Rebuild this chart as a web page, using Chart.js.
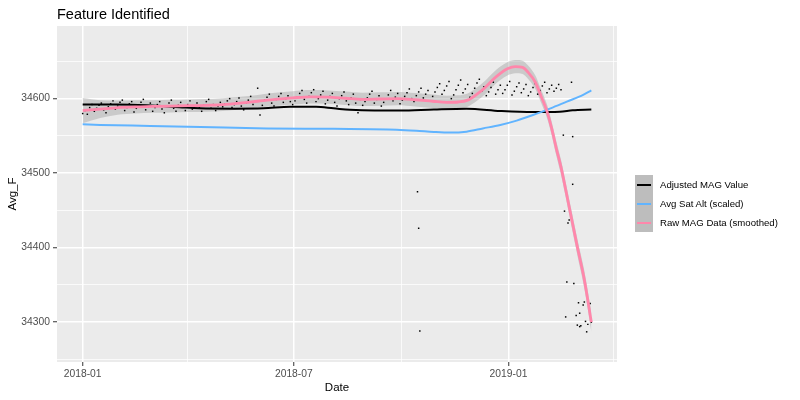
<!DOCTYPE html>
<html><head><meta charset="utf-8">
<script src="https://cdn.jsdelivr.net/npm/chart.js@4.4.1/dist/chart.umd.min.js"></script>
<style>
html,body{margin:0;padding:0;background:#fff;}
#wrap{position:relative;width:800px;height:400px;font-family:"Liberation Sans",Arial,sans-serif;}
canvas{position:absolute;left:0;top:0;}
#title{position:absolute;left:57px;top:5px;font-size:14.5px;line-height:18px;color:#000;white-space:nowrap;}
#legend{position:absolute;left:635px;top:175px;}
.row{position:relative;height:19px;width:160px;}
.key{position:absolute;left:0;top:0;width:18px;height:19px;background:#bdbdbd;}
.key i{position:absolute;left:2px;right:2px;top:8.5px;height:2px;}
.lab{position:absolute;left:25px;top:0;line-height:19px;font-size:9.6px;white-space:nowrap;color:#000;}
</style></head>
<body>
<div id="wrap">
<canvas id="c" width="800" height="400"></canvas>
<div id="title">Feature Identified</div>
<div id="legend"></div>
</div>
<script>
// ---- data (x = days since 2018-01-01) ----
const rawStepDays = 2; // raw points sampled every 2 days from 2018-01-01
const rawValues = [
34580,34584,34579,34588,34592,34583,34587,34591,34594,34585,34581,34589,34593,34597,34586,34590,34595,34598,34584,34588,34593,34596,34582,34587,34591,34595,34599,34585,34589,34594,
34583,34588,34592,34596,34586,34581,34590,34594,34598,34587,34583,34591,34595,34589,34584,34592,34597,34586,34590,34594,34588,34583,34591,34596,34599,34587,34592,34584,34590,34595,
34589,34593,34597,34600,34588,34592,34596,34601,34590,34585,34594,34598,34603,34592,34596,34614,34578,34591,34598,34602,34606,34594,34590,34599,34603,34607,34595,34600,34604,34596,
34592,34597,34602,34607,34611,34599,34594,34603,34608,34612,34596,34600,34605,34610,34593,34598,34603,34607,34595,34590,34600,34604,34609,34597,34592,34601,34606,34594,34581,34599,
34591,34596,34601,34606,34610,34594,34599,34604,34590,34595,34600,34605,34611,34597,34602,34607,34593,34598,34603,34608,34613,34600,34596,34604,34609,34614,34601,34606,34611,34597,
34603,34609,34615,34620,34606,34611,34617,34623,34600,34605,34612,34618,34625,34608,34613,34619,34602,34607,34614,34621,34626,34610,34616,34604,34609,34615,34622,34606,34612,34618,
34607,34612,34618,34623,34605,34610,34616,34621,34608,34613,34619,34604,34609,34615,34620,34606,34611,34617,34622,34608,34613,34618,34610,34614,34619,34612
];
const extraDays   = [287,288,289,412,419,420,420,413,417,416,415,421,425,430,429,435,426,423,414,431,436,433,424,427,426,432];
const extraValues = [34475,34426,34288,34551,34622,34549,34485,34449,34437,34433,34354,34352,34326,34327,34323,34325,34312,34309,34307,34301,34300,34297,34296,34295,34294,34287];

const smoothDays = [0,15,30,45,60,75,90,105,120,135,150,165,180,195,210,225,240,255,270,285,300,312,322,330,338,345,352,358,364,371,377,382,388,393,398,402,406,410,414,418,424,430,436];
const smoothValues = [34584,34586,34588,34589,34589.5,34590,34590.5,34591,34592,34594,34596.5,34599,34601,34602.5,34602,34600.5,34599,34599.5,34600,34598.5,34596.5,34595,34595.5,34598,34606,34615,34626,34634,34640,34643,34642,34635,34622,34603,34583,34560,34533,34508,34478,34447,34401,34357,34300];
const smoothSE = [17,12,9.5,9,8.5,8.5,8.5,8.5,8.5,8.5,8.5,9,9,9,9,9,9,9,9,9,9,9,9,9,9,9,9,9,9,9,9,9,9,9,9,9,9.5,10,10,10.5,11,12,13];

const adjDays = [0,30,55,83,100,130,155,178,200,215,229,250,272,301,329,358,386,409,420,436];
const adjValues = [34592,34592,34591,34588.5,34587,34586.5,34587,34589,34589,34587,34585,34584,34584,34585.5,34586.5,34583.5,34582,34582.5,34584.5,34585.5];

const satDays = [0,15,58,101,158,215,269,286,301,315,329,343,358,372,386,401,415,429,436];
const satValues = [34565.5,34564.7,34563.4,34562,34560,34559.5,34558.4,34557,34555.3,34554.4,34555.7,34560,34564.7,34570.5,34578,34587,34596,34605,34611];

const xTickDays = [0,181,365];
const xTickLabels = ['2018-01','2018-07','2019-01'];
const xMinorDays = [90,273,455];
const yTicks = [34300,34400,34500,34600];
const yMinorTicks = [34250,34350,34450,34550,34650];

const seriesNames = ['Adjusted MAG Value','Avg Sat Alt (scaled)','Raw MAG Data (smoothed)'];
const seriesColors = ['#000000','#61b4ff','#ff87ab'];

// ---- build ----
const pts = (xs, ys) => xs.map((x, i) => ({x, y: ys[i]}));
const rawPts = rawValues.map((v, i) => ({x: i * rawStepDays, y: v})).concat(pts(extraDays, extraValues));
const upper = smoothDays.map((d, i) => ({x: d, y: smoothValues[i] + smoothSE[i]}));
const lower = smoothDays.map((d, i) => ({x: d, y: smoothValues[i] - smoothSE[i]}));

const panelBg = {
  id: 'panelBg',
  beforeDraw(chart) {
    const {ctx, chartArea: a} = chart;
    ctx.save();
    ctx.fillStyle = '#ebebeb';
    ctx.fillRect(a.left, a.top, a.right - a.left, a.bottom - a.top);
    ctx.restore();
  }
};

const lineBase = {type: 'line', pointRadius: 0, fill: false, cubicInterpolationMode: 'monotone'};
const xMajor = new Set(xTickDays), yMajor = new Set(yTicks);

new Chart(document.getElementById('c'), {
  type: 'line',
  data: {
    datasets: [
      Object.assign({}, lineBase, {label: seriesNames[2], data: pts(smoothDays, smoothValues), borderColor: seriesColors[2], borderWidth: 2.8, order: 1}),
      Object.assign({}, lineBase, {label: seriesNames[1], data: pts(satDays, satValues), borderColor: seriesColors[1], borderWidth: 2, order: 2}),
      Object.assign({}, lineBase, {label: seriesNames[0], data: pts(adjDays, adjValues), borderColor: seriesColors[0], borderWidth: 2, order: 3}),
      {type: 'scatter', label: 'raw', data: rawPts, pointStyle: 'rect', pointRadius: 1.05, pointBorderWidth: 0, backgroundColor: '#000', borderColor: '#000', order: 4},
      Object.assign({}, lineBase, {label: 'seU', data: upper, borderWidth: 0, borderColor: 'rgba(0,0,0,0)', backgroundColor: 'rgba(153,153,153,0.4)', fill: '+1', order: 5}),
      Object.assign({}, lineBase, {label: 'seL', data: lower, borderWidth: 0, borderColor: 'rgba(0,0,0,0)', order: 6})
    ]
  },
  options: {
    responsive: false,
    animation: false,
    layout: {padding: {left: 0, top: 26, right: 183, bottom: 0}},
    plugins: {legend: {display: false}, tooltip: {enabled: false}, title: {display: false}},
    scales: {
      x: {
        type: 'linear', min: -22, max: 458,
        afterBuildTicks: s => { s.ticks = xTickDays.concat(xMinorDays).sort((a,b)=>a-b).map(v => ({value: v})); },
        afterFit: s => { s.height = 38; },
        border: {display: false},
        grid: {
          color: '#ffffff',
          lineWidth: c => (c.tick && xMajor.has(c.tick.value)) ? 1.5 : 0.75,
          tickColor: c => (c.tick && xMajor.has(c.tick.value)) ? '#333333' : 'rgba(0,0,0,0)',
          tickLength: 4, tickWidth: 1
        },
        ticks: {
          autoSkip: false, maxRotation: 0, padding: 2, color: '#4d4d4d',
          font: {family: 'Liberation Sans, Arial', size: 10.3},
          callback: v => { const i = xTickDays.indexOf(v); return i >= 0 ? xTickLabels[i] : ''; }
        },
        title: {display: true, text: 'Date', color: '#000', font: {family: 'Liberation Sans, Arial', size: 11.5}, padding: {top: 0, bottom: 5.4}}
      },
      y: {
        type: 'linear', min: 34246.5, max: 34697.5,
        afterBuildTicks: s => { s.ticks = yTicks.concat(yMinorTicks).sort((a,b)=>a-b).map(v => ({value: v})); },
        afterFit: s => { s.width = 57; },
        border: {display: false},
        grid: {
          color: '#ffffff',
          lineWidth: c => (c.tick && yMajor.has(c.tick.value)) ? 1.5 : 0.75,
          tickColor: c => (c.tick && yMajor.has(c.tick.value)) ? '#333333' : 'rgba(0,0,0,0)',
          tickLength: 4, tickWidth: 1
        },
        ticks: {
          autoSkip: false, padding: 3, color: '#4d4d4d',
          font: {family: 'Liberation Sans, Arial', size: 10.3},
          callback: v => yMajor.has(v) ? String(v) : ''
        },
        title: {display: true, text: 'Avg_F', color: '#000', font: {family: 'Liberation Sans, Arial', size: 11.5}, padding: {top: 5.5, bottom: 0}}
      }
    }
  },
  plugins: [panelBg]
});

// ---- legend ----
const leg = document.getElementById('legend');
seriesNames.forEach((n, i) => {
  const r = document.createElement('div'); r.className = 'row';
  r.innerHTML = '<div class="key"><i style="background:' + seriesColors[i] + '"></i></div><div class="lab">' + n + '</div>';
  leg.appendChild(r);
});
</script>
</body></html>
